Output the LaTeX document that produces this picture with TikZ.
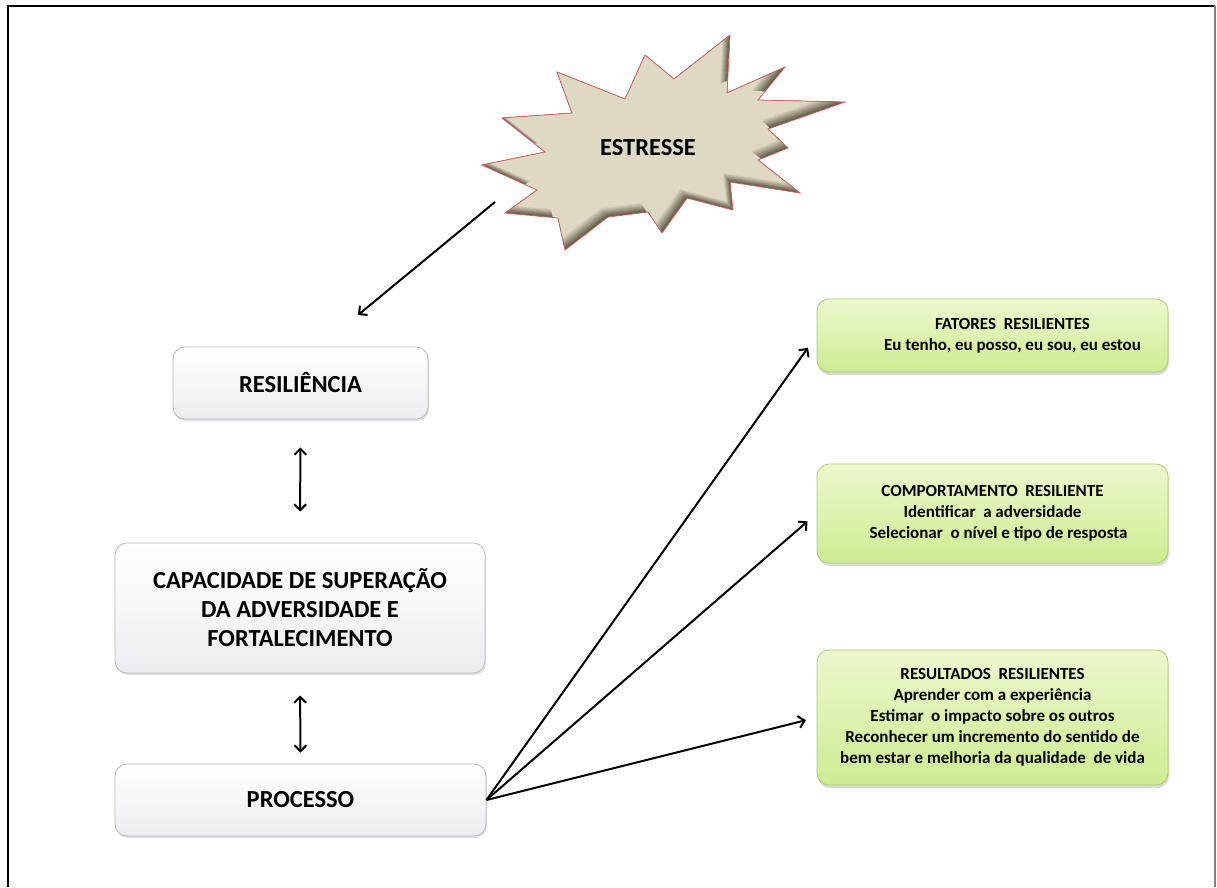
\documentclass[tikz,border=0pt]{standalone}
\usepackage{fontspec}
\setmainfont{Carlito}
\usepackage{tikz}
\usetikzlibrary{arrows.meta}
\usetikzlibrary{shadows}

\definecolor{tanfill}{RGB}{221,217,195}
\definecolor{tanshade}{RGB}{96,92,74}
\definecolor{starline}{RGB}{204,96,96}
\definecolor{greentop}{RGB}{236,248,205}
\definecolor{greenbot}{RGB}{205,236,145}
\definecolor{greenline}{RGB}{170,205,110}
\definecolor{graybot}{RGB}{236,237,242}

\tikzset{
    graybox/.style={rectangle, rounded corners=12pt, draw=gray!55, line width=0.8pt,
        top color=white, bottom color=graybot, align=center,
        font=\fontsize{24.5}{29}\selectfont\bfseries,
        drop shadow={shadow xshift=1pt, shadow yshift=-2pt, opacity=0.25}},
    greenbox/.style={rectangle, rounded corners=12pt, draw=greenline, line width=0.8pt,
        top color=greentop, bottom color=greenbot, align=center,
        minimum width=351pt, font=\fontsize{17}{21}\selectfont\bfseries,
        drop shadow={shadow xshift=1pt, shadow yshift=-3pt, opacity=0.3}},
    link/.style={line width=2pt, -{Straight Barb[length=6pt,width=12pt]}},
    twoway/.style={line width=2pt, {Straight Barb[length=6pt,width=12pt]}-{Straight Barb[length=6pt,width=12pt]}}
}

\def\starpath{(557,72) -- (625,99) -- (645,55) -- (674,79) -- (730,35) -- (727,93)
    -- (785,67) -- (758,100) -- (845,102) -- (768,129) -- (788,148) -- (758,160)
    -- (800,193) -- (730,182) -- (733,210) -- (687,198) -- (662,233) -- (648,212)
    -- (608,217) -- (565,250) -- (558,218) -- (505,213) -- (537,190) -- (482,165)
    -- (545,152) -- (502,118) -- (572,113) -- cycle}

\begin{document}
\begin{tikzpicture}[x=1pt,y=-1pt]
    \useasboundingbox (0,0) rectangle (1217,887);
    %frame
    \draw[line width=2pt] (8,887) -- (8,6) -- (1215,6);
    \draw[line width=1.5pt, gray] (1215,6) -- (1215,887);

    %starburst
    \begin{scope}
        \clip \starpath;
        \fill[tanshade] \starpath;
        \foreach \s in {1,...,10}
            \pgfmathsetmacro{\mix}{100-10*\s}
            \fill[tanshade!\mix!tanfill, shift={(-0.7*\s,-0.9*\s)}] \starpath;
    \end{scope}
    \draw[starline, line width=0.8pt] \starpath;
    \node[font=\fontsize{24.5}{28}\selectfont\bfseries] (estresse) at (648,148) {ESTRESSE};

    %left column
    \node[graybox, minimum width=255pt, minimum height=72pt] (resiliencia) at (300.5,383) {RESILIÊNCIA};
    \node[graybox, minimum width=370pt, minimum height=130pt] (capacidade) at (300,608)
        {CAPACIDADE DE SUPERAÇÃO\\DA ADVERSIDADE E\\FORTALECIMENTO};
    \node[graybox, minimum width=371pt, minimum height=72pt] (processo) at (300.5,800) {PROCESSO};

    %right column
    \node[greenbox, minimum height=73pt] (fatores) at (992.5,335.5)
        {\hspace*{40pt}FATORES\ \ RESILIENTES\\\hspace*{40pt}Eu tenho, eu posso, eu sou, eu estou};
    \node[greenbox, minimum height=99pt] (comportamento) at (992.5,513.5)
        {COMPORTAMENTO\ \ RESILIENTE\\Identificar\ \ a adversidade\\\hspace*{12pt}Selecionar\ \ o nível e tipo de resposta};
    \node[greenbox, minimum height=135pt] (resultados) at (992.5,717.5)
        {RESULTADOS\ \ RESILIENTES\\Aprender com a experiência\\Estimar\ \ o impacto sobre os outros\\
         Reconhecer um incremento do sentido de\\bem estar e melhoria da qualidade\ \ de vida};

    %connectors
    \coordinate (stress tail) at (495,202);
    \coordinate (stress tip) at (358,315);
    \draw[link] (stress tail) -- (stress tip);
    \draw[twoway, shorten <=28pt, shorten >=31pt] (resiliencia.south) -- (capacidade.north);
    \draw[twoway, shorten <=22pt, shorten >=11pt] (capacidade.south) -- (processo.north);
    \foreach \target/\gap in {fatores/15pt, comportamento/12pt, resultados/11pt}
        \draw[link, shorten >=\gap] (processo.east) -- (\target.west);
\end{tikzpicture}
\end{document}
